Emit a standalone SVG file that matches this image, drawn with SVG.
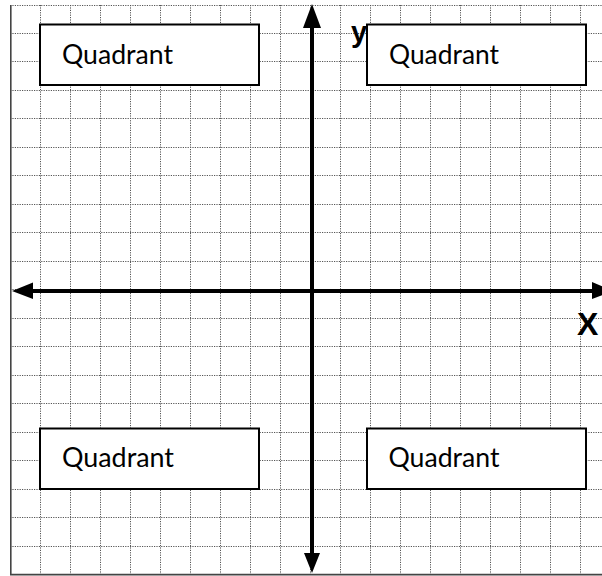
<svg xmlns="http://www.w3.org/2000/svg" width="602" height="576" viewBox="0 0 602 576">
<style>
.grid line{stroke:#555;stroke-width:1;stroke-dasharray:1.2 1.2}
.border{stroke:#444;stroke-width:1.6;fill:none}
.axis{stroke:#000;stroke-width:4;fill:none}
.head{fill:#000}
.box{fill:#fff;stroke:#000;stroke-width:2}
.lbl{font-family:Lato,"Liberation Sans",sans-serif;font-size:27px;fill:#000}
.ax{font-family:"Liberation Sans",Arial,sans-serif;font-weight:bold;fill:#000}
</style>
<rect width="602" height="576" fill="#fff"/>
<g class="grid" id="grid">
<line x1="40.5" y1="5" x2="40.5" y2="574"/><line x1="70.5" y1="5" x2="70.5" y2="574"/><line x1="100.5" y1="5" x2="100.5" y2="574"/><line x1="130.5" y1="5" x2="130.5" y2="574"/><line x1="160.5" y1="5" x2="160.5" y2="574"/><line x1="190.5" y1="5" x2="190.5" y2="574"/><line x1="220.5" y1="5" x2="220.5" y2="574"/><line x1="250.5" y1="5" x2="250.5" y2="574"/><line x1="280.5" y1="5" x2="280.5" y2="574"/><line x1="310.5" y1="5" x2="310.5" y2="574"/><line x1="340.5" y1="5" x2="340.5" y2="574"/><line x1="370.5" y1="5" x2="370.5" y2="574"/><line x1="400.5" y1="5" x2="400.5" y2="574"/><line x1="430.5" y1="5" x2="430.5" y2="574"/><line x1="460.5" y1="5" x2="460.5" y2="574"/><line x1="490.5" y1="5" x2="490.5" y2="574"/><line x1="520.5" y1="5" x2="520.5" y2="574"/><line x1="550.5" y1="5" x2="550.5" y2="574"/><line x1="580.5" y1="5" x2="580.5" y2="574"/>
<line x1="10" y1="5.5" x2="602" y2="5.5"/><line x1="10" y1="33.5" x2="602" y2="33.5"/><line x1="10" y1="61.5" x2="602" y2="61.5"/><line x1="10" y1="90.5" x2="602" y2="90.5"/><line x1="10" y1="118.5" x2="602" y2="118.5"/><line x1="10" y1="147.5" x2="602" y2="147.5"/><line x1="10" y1="175.5" x2="602" y2="175.5"/><line x1="10" y1="204.5" x2="602" y2="204.5"/><line x1="10" y1="232.5" x2="602" y2="232.5"/><line x1="10" y1="261.5" x2="602" y2="261.5"/><line x1="10" y1="289.5" x2="602" y2="289.5"/><line x1="10" y1="318.5" x2="602" y2="318.5"/><line x1="10" y1="346.5" x2="602" y2="346.5"/><line x1="10" y1="375.5" x2="602" y2="375.5"/><line x1="10" y1="403.5" x2="602" y2="403.5"/><line x1="10" y1="432.5" x2="602" y2="432.5"/><line x1="10" y1="460.5" x2="602" y2="460.5"/><line x1="10" y1="489.5" x2="602" y2="489.5"/><line x1="10" y1="517.5" x2="602" y2="517.5"/><line x1="10" y1="546.5" x2="602" y2="546.5"/>
</g>
<path class="border" d="M10.8 5 V574.6 H602"/>
<g id="connectors">
<line class="axis" x1="312" y1="24" x2="312" y2="556"/>
<polygon class="head" points="312,4 303,28 321,28"/>
<polygon class="head" points="312,573 304,553 320,553"/>
<line class="axis" x1="30" y1="291" x2="594" y2="291"/>
<polygon class="head" points="12,291 33,282.5 33,299"/>
<polygon class="head" points="613,291 592,282 592,299"/>
</g>
<g id="label-y"><text class="ax" x="351" y="42" font-size="29">y</text></g>
<g id="label-x"><text class="ax" x="577" y="335" font-size="32">X</text></g>
<g id="q-top-left"><rect class="box" x="40" y="24.5" width="219" height="60.5"/><text class="lbl" x="62" y="64" textLength="111" lengthAdjust="spacingAndGlyphs">Quadrant</text></g>
<g id="q-top-right"><rect class="box" x="367" y="24.5" width="219" height="60.5"/><text class="lbl" x="389" y="64" textLength="110" lengthAdjust="spacingAndGlyphs">Quadrant</text></g>
<g id="q-bottom-left"><rect class="box" x="40" y="428.5" width="219" height="60.5"/><text class="lbl" x="62" y="467" textLength="112" lengthAdjust="spacingAndGlyphs">Quadrant</text></g>
<g id="q-bottom-right"><rect class="box" x="367" y="428.5" width="219" height="60.5"/><text class="lbl" x="388.5" y="467" textLength="111" lengthAdjust="spacingAndGlyphs">Quadrant</text></g>
</svg>
